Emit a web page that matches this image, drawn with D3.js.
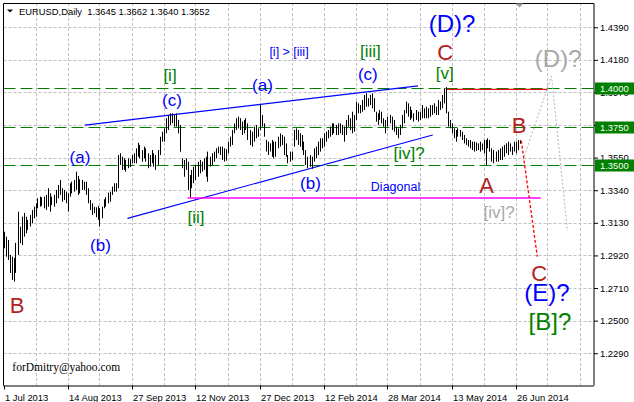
<!DOCTYPE html>
<html>
<head>
<meta charset="utf-8">
<script src="https://cdn.jsdelivr.net/npm/d3@7"></script>
<style>
  body { margin: 0; background: #fff; }
  svg { display: block; }
</style>
</head>
<body>
<script>
"use strict";

// EURUSD daily bars, 1 Jul 2013 .. 30 Jun 2014 (one entry per bar)
const highs = [
  1.3073,1.3041,1.3020,1.2923,1.2912,1.2904,1.3001,1.3202,1.3105,1.3170,
  1.3194,1.3170,1.3149,1.3181,1.3213,1.3234,1.3256,1.3288,1.3299,1.3295,
  1.3299,1.3310,1.3353,1.3321,1.3299,1.3310,1.3342,1.3374,1.3406,1.3353,
  1.3342,1.3331,1.3321,1.3385,1.3395,1.3406,1.3460,1.3432,1.3411,1.3406,
  1.3395,1.3395,1.3353,1.3277,1.3256,1.3234,1.3230,1.3239,1.3224,1.3234,
  1.3282,1.3295,1.3325,1.3331,1.3363,1.3385,1.3385,1.3567,1.3578,1.3556,
  1.3546,1.3535,1.3546,1.3540,1.3567,1.3578,1.3610,1.3646,1.3632,1.3599,
  1.3621,1.3610,1.3578,1.3567,1.3599,1.3578,1.3567,1.3599,1.3685,1.3717,
  1.3739,1.3804,1.3825,1.3836,1.3836,1.3825,1.3836,1.3793,1.3761,1.3546,
  1.3535,1.3546,1.3524,1.3438,1.3471,1.3492,1.3503,1.3524,1.3535,1.3524,
  1.3546,1.3556,1.3589,1.3556,1.3578,1.3589,1.3610,1.3621,1.3621,1.3621,
  1.3610,1.3605,1.3653,1.3685,1.3728,1.3771,1.3804,1.3814,1.3804,1.3782,
  1.3793,1.3804,1.3771,1.3728,1.3717,1.3750,1.3761,1.3739,1.3896,1.3825,
  1.3771,1.3664,1.3653,1.3642,1.3664,1.3653,1.3653,1.3685,1.3707,1.3696,
  1.3685,1.3642,1.3567,1.3589,1.3589,1.3728,1.3739,1.3728,1.3707,1.3696,
  1.3653,1.3599,1.3556,1.3567,1.3556,1.3610,1.3621,1.3653,1.3675,1.3675,
  1.3707,1.3717,1.3728,1.3750,1.3771,1.3771,1.3761,1.3771,1.3771,1.3761,
  1.3750,1.3793,1.3825,1.3804,1.3846,1.3825,1.3911,1.3900,1.3889,1.3922,
  1.3954,1.3965,1.3933,1.3954,1.3965,1.3933,1.3846,1.3836,1.3857,1.3846,
  1.3804,1.3793,1.3814,1.3825,1.3814,1.3793,1.3750,1.3739,1.3761,1.3825,
  1.3857,1.3911,1.3900,1.3879,1.3857,1.3836,1.3857,1.3846,1.3846,1.3889,
  1.3868,1.3879,1.3868,1.3889,1.3889,1.3900,1.3879,1.3922,1.3911,1.3954,
  1.3997,1.4004,1.3846,1.3793,1.3771,1.3739,1.3728,1.3739,1.3728,1.3717,
  1.3696,1.3675,1.3664,1.3664,1.3653,1.3653,1.3648,1.3642,1.3653,1.3642,
  1.3664,1.3664,1.3675,1.3664,1.3610,1.3599,1.3589,1.3599,1.3610,1.3621,
  1.3632,1.3642,1.3653,1.3642,1.3621,1.3653,1.3653,1.3664,1.3662
];
const lows = [
  1.2966,1.2912,1.2891,1.2807,1.2762,1.2751,1.2807,1.2923,1.2999,1.2987,
  1.3041,1.3063,1.3084,1.3106,1.3127,1.3159,1.3170,1.3224,1.3234,1.3240,
  1.3224,1.3213,1.3234,1.3202,1.3245,1.3234,1.3256,1.3288,1.3310,1.3266,
  1.3277,1.3256,1.3202,1.3299,1.3320,1.3331,1.3342,1.3310,1.3320,1.3342,
  1.3342,1.3310,1.3256,1.3213,1.3181,1.3192,1.3166,1.3149,1.3106,1.3159,
  1.3224,1.3234,1.3256,1.3266,1.3310,1.3331,1.3331,1.3353,1.3503,1.3471,
  1.3471,1.3460,1.3482,1.3490,1.3514,1.3514,1.3514,1.3556,1.3546,1.3524,
  1.3546,1.3524,1.3482,1.3492,1.3514,1.3492,1.3471,1.3503,1.3567,1.3653,
  1.3653,1.3707,1.3728,1.3761,1.3772,1.3750,1.3750,1.3707,1.3589,1.3482,
  1.3427,1.3471,1.3342,1.3295,1.3353,1.3385,1.3406,1.3427,1.3449,1.3460,
  1.3471,1.3427,1.3395,1.3492,1.3503,1.3524,1.3546,1.3578,1.3567,1.3535,
  1.3524,1.3530,1.3578,1.3621,1.3632,1.3707,1.3728,1.3739,1.3728,1.3696,
  1.3707,1.3728,1.3664,1.3632,1.3621,1.3653,1.3675,1.3685,1.3728,1.3750,
  1.3685,1.3589,1.3567,1.3589,1.3556,1.3546,1.3556,1.3610,1.3621,1.3632,
  1.3567,1.3556,1.3514,1.3524,1.3535,1.3621,1.3664,1.3632,1.3621,1.3599,
  1.3567,1.3503,1.3482,1.3492,1.3478,1.3524,1.3546,1.3567,1.3589,1.3610,
  1.3621,1.3653,1.3675,1.3685,1.3696,1.3707,1.3696,1.3696,1.3707,1.3696,
  1.3653,1.3696,1.3750,1.3728,1.3707,1.3717,1.3793,1.3836,1.3836,1.3846,
  1.3857,1.3879,1.3879,1.3889,1.3868,1.3846,1.3782,1.3761,1.3793,1.3771,
  1.3750,1.3707,1.3750,1.3771,1.3728,1.3717,1.3696,1.3675,1.3696,1.3739,
  1.3771,1.3836,1.3814,1.3793,1.3804,1.3782,1.3793,1.3782,1.3793,1.3804,
  1.3804,1.3804,1.3804,1.3814,1.3825,1.3836,1.3825,1.3825,1.3857,1.3868,
  1.3900,1.3836,1.3750,1.3739,1.3707,1.3675,1.3653,1.3685,1.3685,1.3664,
  1.3642,1.3632,1.3621,1.3610,1.3599,1.3589,1.3594,1.3599,1.3589,1.3599,
  1.3578,1.3503,1.3610,1.3589,1.3524,1.3514,1.3524,1.3524,1.3535,1.3535,
  1.3556,1.3578,1.3567,1.3589,1.3567,1.3589,1.3578,1.3599,1.3640
];

const dateLabels = ["1 Jul 2013", "14 Aug 2013", "27 Sep 2013", "12 Nov 2013", "27 Dec 2013",
                    "12 Feb 2014", "28 Mar 2014", "13 May 2014", "26 Jun 2014"];
const dateStep = 32;   // bars between two date labels
const priceTicks = [1.4390, 1.4180, 1.3970, 1.3760, 1.3550, 1.3340, 1.3130, 1.2920, 1.2710, 1.2500, 1.2290];
const levels = [1.4000, 1.3750, 1.3500];
const header = ["EURUSD,Daily", "1.3645", "1.3662", "1.3640", "1.3652"];

// wave lines, in [bar, price]
const upperTrend = [[40.75, 1.3760], [207.25, 1.4012]];
const lowerTrend = [[62, 1.3159], [214.6, 1.3696]];
const diagonalBase = [[92.1, 1.3290], [268.6, 1.3290]];
const topLine = [[221.1, 1.3990], [271.9, 1.3990]];
const forecastRed = [[258.9, 1.3659], [266.9, 1.2912]];
const forecastGray = [[259.75, 1.3535], [274, 1.4076], [282, 1.3077]];

// wave labels: text, bar, price, style
const waveLabels = [
  ["[i]", 83.25, 1.4073, "green"],
  ["(c)", 84.25, 1.3912, "blue"],
  ["(a)", 38.25, 1.3546, "blue"],
  ["(b)", 48.5, 1.2976, "blue"],
  ["[ii]", 96.25, 1.3159, "green"],
  ["B", 6.75, 1.2601, "red"],
  ["[i] > [iii]", 142.75, 1.4228, "note"],
  ["(a)", 129.5, 1.4007, "blue"],
  ["[iii]", 183.4, 1.4228, "green"],
  ["(c)", 182.15, 1.4083, "blue"],
  ["(b)", 153.5, 1.3379, "blue"],
  ["Diagonal", 196, 1.3367, "note"],
  ["[iv]?", 202.85, 1.3572, "green"],
  ["(D)?", 224.25, 1.4402, "bigBlue"],
  ["C", 220.9, 1.4228, "red"],
  ["[v]", 220.65, 1.4088, "green"],
  ["(D)?", 277.35, 1.4177, "bigGray"],
  ["B", 257.75, 1.3760, "red"],
  ["A", 241.5, 1.3372, "red"],
  ["[iv]?", 247.75, 1.3192, "gray"],
  ["C", 267.9, 1.2807, "red"],
  ["(E)?", 271.75, 1.2667, "bigBlue"],
  ["[B]?", 273.2, 1.2483, "bigGreen"]
];

const labelStyles = {
  green:    { color: "#008000", size: 17 },
  blue:     { color: "#0000ff", size: 17 },
  red:      { color: "#b22222", size: 22 },
  gray:     { color: "#a9a9a9", size: 17 },
  note:     { color: "#0000ff", size: 12.5 },
  bigBlue:  { color: "#0000ff", size: 24 },
  bigGray:  { color: "#a9a9a9", size: 24 },
  bigGreen: { color: "#008000", size: 24 }
};

const W = 634, H = 402;
const plotL = 3.5, plotR = 594, plotT = 3, plotB = 385.5;
const uiFont = "'Liberation Sans', Arial, sans-serif";

const svg = d3.select("body").append("svg").attr("width", W).attr("height", H);
svg.append("rect").attr("width", W).attr("height", H).attr("fill", "#fff");

const x = d3.scaleLinear().domain([0, 295.25]).range([plotL, plotR]);
const y = d3.scaleLinear().domain([1.2082, 1.4540]).range([plotB, plotT + 1]);
const crisp = v => Math.round(v) + 0.5;

// grid
const grid = svg.append("g").attr("stroke", "#c0c0c0").attr("stroke-dasharray", "3,2");
grid.selectAll(".gv").data(d3.range(16, 296, 16)).join("line").attr("class", "gv")
  .attr("x1", d => crisp(x(d))).attr("x2", d => crisp(x(d)))
  .attr("y1", plotT).attr("y2", plotB);
grid.selectAll(".gh").data(priceTicks).join("line").attr("class", "gh")
  .attr("x1", plotL).attr("x2", plotR)
  .attr("y1", d => crisp(y(d))).attr("y2", d => crisp(y(d)));

// horizontal levels
svg.append("g").selectAll("line").data(levels).join("line")
  .attr("x1", plotL).attr("x2", plotR)
  .attr("y1", d => crisp(y(d))).attr("y2", d => crisp(y(d)))
  .attr("stroke", "#008000").attr("stroke-dasharray", "12,5");

const line = d3.line().x(d => x(d[0])).y(d => y(d[1]));
function drawPath(pts, color, width, dash) {
  svg.append("path").attr("d", line(pts)).attr("fill", "none")
    .attr("stroke", color).attr("stroke-width", width)
    .attr("stroke-dasharray", dash || null);
}
drawPath(upperTrend, "#0000ff", 1.2);
drawPath(lowerTrend, "#0000ff", 1.2);
drawPath(diagonalBase, "#ff00ff", 1.6);
drawPath(topLine, "#e01010", 1.2);

// bars
svg.append("g").selectAll("line").data(highs).join("line")
  .attr("x1", (d, i) => crisp(x(i))).attr("x2", (d, i) => crisp(x(i)))
  .attr("y1", d => y(d)).attr("y2", (d, i) => y(lows[i]))
  .attr("stroke", "#000").attr("stroke-width", 1);

drawPath(forecastRed, "#ff0000", 1.3, "3,2");
drawPath(forecastGray, "#b4b4b4", 1, "2,2");

// wave labels
svg.append("g").selectAll("text").data(waveLabels).join("text")
  .attr("x", d => x(d[1]))
  .attr("y", d => y(d[2]) + (/[\(\[]/.test(d[0]) ? 0.27 : 0.36) * labelStyles[d[3]].size)
  .attr("text-anchor", "middle")
  .attr("font-family", uiFont)
  .attr("font-size", d => labelStyles[d[3]].size)
  .attr("fill", d => labelStyles[d[3]].color)
  .text(d => d[0]);

svg.append("text").attr("x", x(4.4)).attr("y", y(1.2195) + 3.5)
  .attr("font-family", "'Liberation Serif', 'Times New Roman', serif")
  .attr("font-size", 11.5).attr("fill", "#000")
  .text("forDmitry@yahoo.com");

// frame
svg.append("path")
  .attr("d", `M${plotL},${plotB}V${plotT + 0.5}H${plotR}V${plotB}`)
  .attr("fill", "none").attr("stroke", "#000");

// price axis
const yAxis = svg.append("g").attr("transform", `translate(${plotR},0)`)
  .call(d3.axisRight(y).tickValues(priceTicks).tickFormat(d3.format(".4f")).tickSize(4).tickPadding(2));
yAxis.select(".domain").remove();
yAxis.selectAll(".tick line").attr("stroke", "#000");
yAxis.selectAll("text").attr("font-family", uiFont).attr("font-size", 9.4).attr("fill", "#000");

const lvl = svg.append("g").selectAll("g").data(levels).join("g")
  .attr("transform", d => `translate(${plotR + 1},${crisp(y(d))})`);
lvl.append("rect").attr("x", 0).attr("y", -6).attr("width", W - plotR).attr("height", 12).attr("fill", "#008000");
lvl.append("text").attr("x", 5).attr("dy", "0.34em")
  .attr("font-family", uiFont).attr("font-size", 9.4).attr("fill", "#fff")
  .text(d => d3.format(".4f")(d));

// date axis
const xAxis = svg.append("g").attr("transform", `translate(0,${plotB})`)
  .call(d3.axisBottom(x).tickValues(dateLabels.map((d, k) => k * dateStep))
    .tickFormat((d, k) => dateLabels[k]).tickSize(4));
xAxis.select(".domain").attr("d", `M${plotL},0.5H${plotR}`).attr("stroke", "#000");
xAxis.selectAll(".tick").attr("transform", d => `translate(${crisp(x(d)) - 0.5},0)`);
xAxis.selectAll(".tick line").attr("stroke", "#000").attr("x1", 0.5).attr("x2", 0.5);
xAxis.selectAll("text").attr("font-family", uiFont).attr("font-size", 9.4).attr("fill", "#000")
  .attr("text-anchor", "start").attr("x", 1).attr("y", 9).attr("dy", "0.71em");

// header
svg.append("path").attr("d", "M7,9.5H13L10,12.5Z").attr("fill", "#000");
svg.append("text").attr("x", 19).attr("y", 14.5)
  .attr("font-family", uiFont).attr("font-size", 9.4).attr("fill", "#000")
  .attr("xml:space", "preserve")
  .text(header[0] + "  " + header.slice(1).join(" "));

// chart shift marker
svg.append("path").attr("d", `M${x(258) - 4},3.5H${x(258) + 4}L${x(258)},7.5Z`).attr("fill", "#a0a0a0");
</script>
</body>
</html>
